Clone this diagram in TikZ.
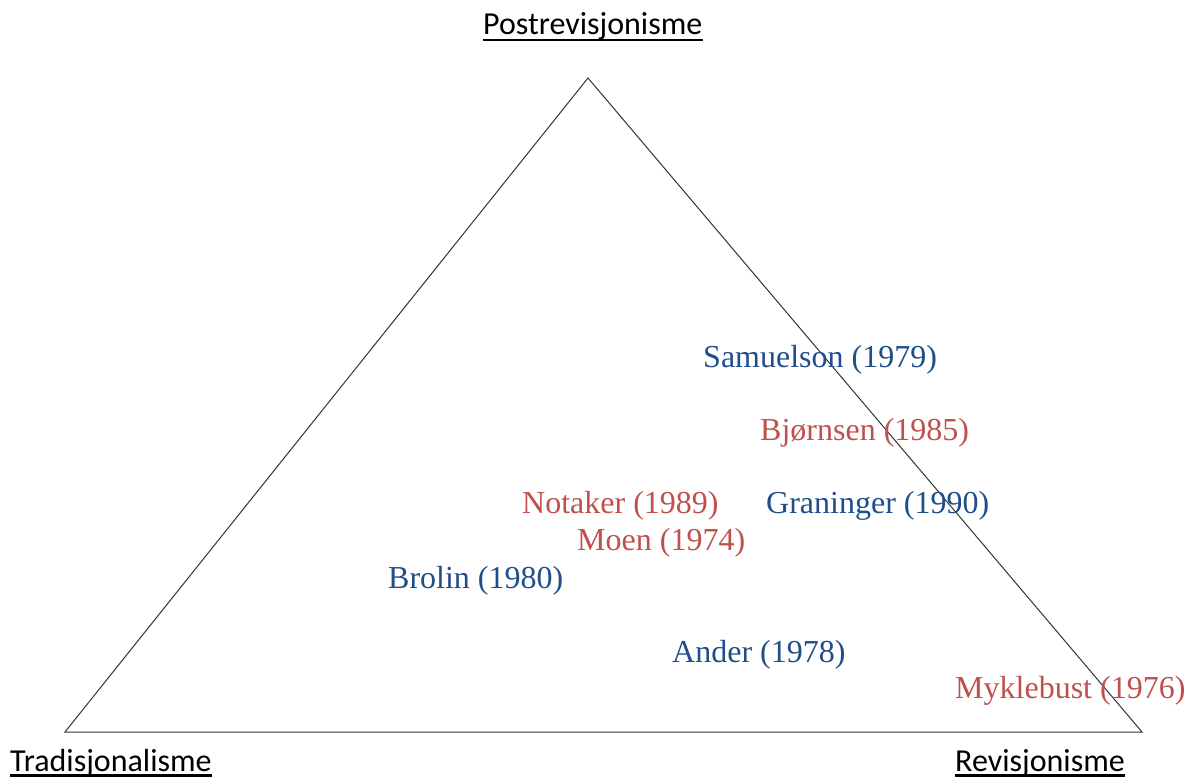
\documentclass[tikz,border=0pt]{standalone}
\usepackage{fontspec}
\setmainfont{Liberation Serif}
\newfontfamily\labfont{Carlito}
\definecolor{nblue}{HTML}{1F4E8A}
\definecolor{nred}{HTML}{C0504D}
\begin{document}
\begin{tikzpicture}[x=1pt,y=-1pt,
  authtext/.style={anchor=base west,inner sep=0pt,font=\fontsize{32}{38}\selectfont},
  bl/.style={authtext,text=nblue},
  rd/.style={authtext,text=nred},
  lab/.style={anchor=base west,inner sep=0pt,font=\labfont\fontsize{32}{38}\selectfont},
  uline/.style={draw=black,line width=2.5pt},
  edge/.style={draw=black!80,line width=1pt}]
\useasboundingbox (0,0) rectangle (1185,778);
\coordinate (T) at (588,78);
\coordinate (L) at (65,732);
\coordinate (R) at (1142,732);
\draw[edge] (T) -- (R) -- (L) -- cycle;
\node[lab] (post) at (483,35) {Postrevisjonisme};
\node[lab] (trad) at (10,771) {Tradisjonalisme};
\node[lab] (rev) at (955,771) {Revisjonisme};
\draw[uline] ([yshift=-5pt]post.base west) -- ([yshift=-5pt]post.base east);
\draw[uline] ([yshift=-4.5pt]trad.base west) -- ([yshift=-4.5pt]trad.base east);
\draw[uline] ([yshift=-4.5pt]rev.base west) -- ([yshift=-4.5pt]rev.base east);
\node[bl] (sam) at (703,367) {Samuelson (1979)};
\node[rd] (bjo) at (760,440) {Bjørnsen (1985)};
\node[rd] (not) at (522,513) {Notaker (1989)};
\node[bl] (gra) at (766,513) {Graninger (1990)};
\node[rd] (moe) at (577,550) {Moen (1974)};
\node[bl] (bro) at (388,588) {Brolin (1980)};
\node[bl] (and) at (672,662) {Ander (1978)};
\node[rd] (myk) at (955,698) {Myklebust (1976)};
\end{tikzpicture}
\end{document}
